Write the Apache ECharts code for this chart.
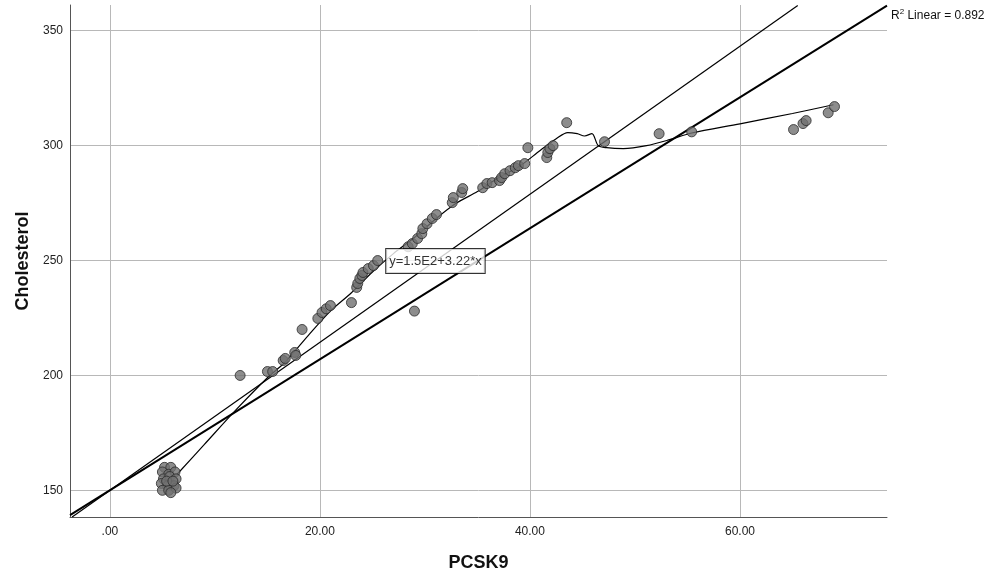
<!DOCTYPE html>
<html>
<head>
<meta charset="utf-8">
<script src="https://cdn.jsdelivr.net/npm/echarts@6/dist/echarts.min.js"></script>
<style>html,body{margin:0;padding:0;background:#fff}#c{width:988px;height:579px}</style>
</head>
<body>
<div id="c"></div>
<script>
const xTicks = [0, 20, 40, 60];
const yTicks = [150, 200, 250, 300, 350];
const pcsk9 = [5.2,5.8,5.0,5.6,6.2,5.1,5.7,6.3,4.9,5.5,6.1,5.0,5.6,6.3,5.8,5.4,6.0,
  12.4,15.0,15.5,16.5,16.7,17.6,17.7,18.3,19.8,20.2,20.6,21.0,
  23.0,23.5,23.6,23.8,24.0,24.1,24.6,25.1,25.5,
  28.4,28.8,29.3,29.7,29.8,30.2,30.7,31.1,29.0,
  32.6,32.7,33.5,33.6,35.5,35.9,36.4,37.1,37.3,37.6,38.1,38.6,38.9,39.5,39.8,41.6,41.7,41.9,42.2,
  43.5,47.1,52.3,55.4,65.1,66.0,66.3,68.4,69.0];
const cholesterol = [160,160,158,157,158,155,156,155,153,152,152,150,150,151,149,154,154,
  200,201.7,201.7,206.5,207.4,210,208.7,220,224.8,227.4,229,230.4,
  231.7,238.3,240,242.2,243.5,244.8,246.5,247.8,250,
  256,257.4,259.6,261.7,263.9,266,268.3,270,228,
  275.2,277.4,279.6,281.3,281.7,283.5,283.9,284.8,286.1,287.8,289.1,290.4,291.3,292.2,299.1,294.8,297,298.7,300,
  310,301.7,305.2,306,307,309.6,310.9,314.3,317];
// lines
const fitLineX = [-3.8, 74];
const fitLineY = [139.2, 360.9];
const eqLineX = [-3.6, 65.5];
const eqLineY = [138.4, 361];
const curveX = [6.4,9,12,15,16.5,17.5,19,21,23,25,27,29,31,33,35,37,39,41,42.5,43.6,44.5,45.2,45.9,46.5,47.3,48.9,51.1,53.3,55.4,60,65,68.9];
const curveY = [157,170,185,199,205,210,218,228,236,245,253,260,268,275,280,286,291,298,303,305.7,305.2,304.2,305.2,300,299.1,298.7,300,302.6,305.5,309.5,314,317.8];
const eqLabel = 'y=1.5E2+3.22*x';
const eqLabelAt = [31, 249.8];
const r2Text = 'R{sup|2} Linear = 0.892';

const zip = (a, b) => a.map((v, i) => [v, b[i]]);
const font = 'Arial, "Liberation Sans", sans-serif';

const chart = echarts.init(document.getElementById('c'), null, {renderer: 'canvas'});
chart.setOption({
  animation: false,
  backgroundColor: '#fff',
  grid: {left: 70, right: 101, top: 5, bottom: 62, containLabel: false},
  xAxis: {
    type: 'value', min: -3.8, max: 74,
    name: 'PCSK9', nameLocation: 'middle', nameGap: 37,
    nameTextStyle: {fontFamily: font, fontWeight: 'bold', fontSize: 18, color: '#111'},
    axisLine: {show: true, onZero: false, lineStyle: {color: '#555', width: 1}},
    axisTick: {show: false, customValues: xTicks},
    axisLabel: {customValues: xTicks, margin: 9, fontFamily: font, fontSize: 12, color: '#222',
      formatter: v => v === 0 ? '.00' : v.toFixed(2)},
    splitLine: {show: true, lineStyle: {color: '#b8b8b8', width: 1}}
  },
  yAxis: {
    type: 'value', min: 138.4, max: 361.2,
    name: 'Cholesterol', nameLocation: 'middle', nameGap: 38,
    nameTextStyle: {fontFamily: font, fontWeight: 'bold', fontSize: 18, color: '#111'},
    axisLine: {show: true, onZero: false, lineStyle: {color: '#555', width: 1}},
    axisTick: {show: false, customValues: yTicks},
    axisLabel: {customValues: yTicks, margin: 7, fontFamily: font, fontSize: 12, color: '#222'},
    splitLine: {show: true, lineStyle: {color: '#b8b8b8', width: 1}}
  },
  series: [
    {
      type: 'line', data: zip(fitLineX, fitLineY), symbol: 'none', clip: true, z: 3,
      lineStyle: {color: '#000', width: 2},
      endLabel: {show: true, formatter: r2Text, align: 'left', verticalAlign: 'middle', offset: [-4, 10],
        fontFamily: font, fontSize: 12, color: '#111',
        rich: {sup: {fontSize: 8, verticalAlign: 'top', padding: [0, 0, 8, 0], fontFamily: font, color: '#111'}}}
    },
    {
      type: 'line', data: zip(eqLineX, eqLineY), symbol: 'none', clip: true, z: 3,
      lineStyle: {color: '#000', width: 1.2}
    },
    {
      type: 'line', data: zip(curveX, curveY), symbol: 'none', smooth: 0.3, clip: true, z: 3,
      lineStyle: {color: '#000', width: 1.2}
    },
    {
      type: 'scatter', data: zip(pcsk9, cholesterol), symbol: 'circle', symbolSize: 10, z: 4,
      itemStyle: {color: '#707070', borderColor: '#2a2a2a', borderWidth: 1}
    },
    {
      type: 'scatter', data: [eqLabelAt], symbolSize: 0, z: 10, silent: true,
      label: {show: true, position: 'inside', formatter: eqLabel, fontFamily: font, fontSize: 13, color: '#000',
        backgroundColor: '#fff', borderColor: '#000', borderWidth: 1, padding: [6, 3, 5, 3]}
    }
  ]
});
</script>
</body>
</html>
